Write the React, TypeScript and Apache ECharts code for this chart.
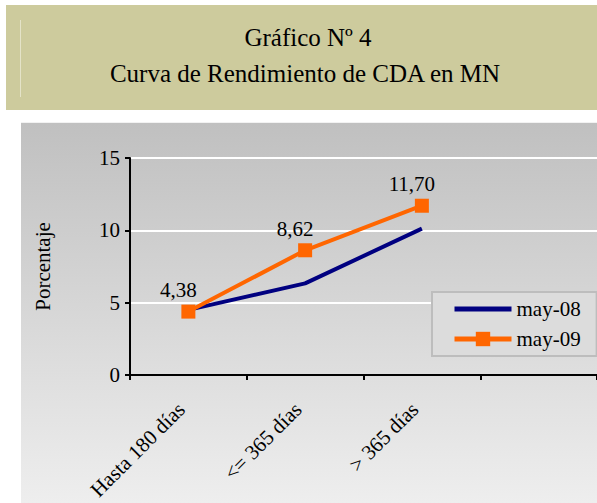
import React, { useEffect, useRef } from "react";
import * as echarts from "echarts";

const categories = ["Hasta 180 días", "<= 365 días", "> 365 días", ""];
const may08 = [4.5, 6.33, 10.12];
const may09 = [4.38, 8.62, 11.7];
const yTicks = { min: 0, max: 15, interval: 5 };
const titleLines = ["Gráfico Nº 4", "Curva de Rendimiento de CDA en MN"];

const FONT = "Liberation Serif";

export default function App() {
  const ref = useRef<HTMLDivElement>(null);
  useEffect(() => {
    document.body.style.margin = "0";
    const chart = echarts.init(ref.current!, null, { renderer: "svg" });
    chart.setOption({
      animation: false,
      backgroundColor: "#ffffff",
      textStyle: { fontFamily: FONT },
      graphic: [
        {
          type: "rect",
          shape: { x: 6, y: 5, width: 591, height: 105 },
          style: { fill: "#CDCB9D" },
          z: -10,
        },
        {
          type: "line",
          shape: { x1: 20.5, y1: 20, x2: 20.5, y2: 97 },
          style: { stroke: "#E4E3C8", lineWidth: 1 },
          z: -9,
        },
        {
          type: "text",
          x: 308,
          y: 37,
          style: {
            text: titleLines[0],
            fontFamily: FONT,
            fontSize: 25,
            fill: "#000",
            align: "center",
            verticalAlign: "middle",
          },
        },
        {
          type: "text",
          x: 305,
          y: 73,
          style: {
            text: titleLines[1],
            fontFamily: FONT,
            fontSize: 25,
            fill: "#000",
            align: "center",
            verticalAlign: "middle",
          },
        },
        {
          type: "rect",
          shape: { x: 21, y: 123, width: 576, height: 380 },
          style: {
            fill: new echarts.graphic.LinearGradient(0, 0, 0, 1, [
              { offset: 0, color: "#C0C0C0" },
              { offset: 1, color: "#EEEEEE" },
            ]),
          },
          z: -10,
        },
        {
          type: "line",
          shape: { x1: 21, y1: 122.5, x2: 597, y2: 122.5 },
          style: { stroke: "#F2F2F2", lineWidth: 1 },
          z: -9,
        },
      ],
      grid: { left: 130, top: 158, width: 468, height: 218, containLabel: false },
      legend: {
        left: 432,
        top: 292,
        orient: "vertical",
        backgroundColor: "#DCDCDC",
        borderColor: "#BDBDBD",
        borderWidth: 2,
        borderRadius: 0,
        padding: [6, 16, 6, 20],
        itemWidth: 57,
        itemHeight: 18,
        itemGap: 8,
        textStyle: { fontFamily: FONT, fontSize: 21, color: "#000", lineHeight: 22 },
        data: [
          { name: "may-08", itemStyle: { opacity: 0 }, lineStyle: { width: 5, color: "#000080" } },
          { name: "may-09", lineStyle: { width: 5, color: "#FF6600" } },
        ],
      },
      xAxis: {
        type: "category",
        data: categories,
        boundaryGap: true,
        axisLine: { lineStyle: { color: "#000", width: 2 } },
        axisTick: { show: true, length: 5, lineStyle: { color: "#000", width: 2 } },
        axisLabel: {
          rotate: 45,
          margin: 24,
          padding: [0, 10, 0, 0],
          fontFamily: FONT,
          fontSize: 21,
          color: "#000",
          interval: 0,
        },
        splitLine: { show: false },
      },
      yAxis: {
        type: "value",
        min: yTicks.min,
        max: yTicks.max,
        interval: yTicks.interval,
        name: "Porcentaje",
        nameLocation: "middle",
        nameRotate: 90,
        nameGap: 77,
        nameTextStyle: { fontFamily: FONT, fontSize: 21, color: "#000" },
        axisLine: { show: true, lineStyle: { color: "#000", width: 2 } },
        axisTick: { show: true, length: 5, lineStyle: { color: "#000", width: 2 } },
        axisLabel: { margin: 10, fontFamily: FONT, fontSize: 21, color: "#000" },
        splitLine: { show: true, lineStyle: { color: "#FFFFFF", width: 2 } },
      },
      series: [
        {
          name: "may-08",
          type: "line",
          data: may08,
          symbol: "none",
          lineStyle: { color: "#000080", width: 4 },
          itemStyle: { color: "#000080" },
          z: 2,
        },
        {
          name: "may-09",
          type: "line",
          data: may09,
          symbol: "rect",
          symbolSize: 14,
          lineStyle: { color: "#FF6600", width: 4 },
          itemStyle: { color: "#FF6600" },
          label: {
            show: true,
            position: "top",
            distance: 6,
            offset: [-10, 2],
            fontFamily: FONT,
            fontSize: 21,
            color: "#000",
            formatter: (p: any) => p.value.toFixed(2).replace(".", ","),
          },
          z: 3,
        },
      ],
    });
    return () => chart.dispose();
  }, []);
  return (
    <div
      ref={ref}
      style={{ position: "fixed", left: 0, top: 0, width: 597, height: 503 }}
    />
  );
}
